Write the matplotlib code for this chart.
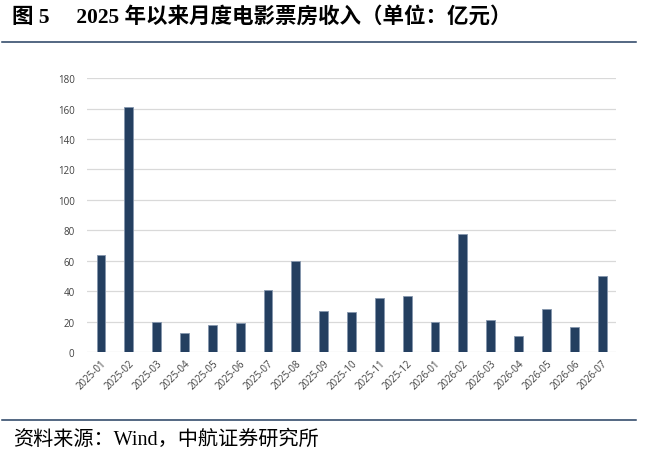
import matplotlib
matplotlib.use("Agg")
import matplotlib.pyplot as plt
from matplotlib.lines import Line2D

# monthly box office, 100m yuan
months = ["2025-01", "2025-02", "2025-03", "2025-04", "2025-05", "2025-06",
          "2025-07", "2025-08", "2025-09", "2025-10", "2025-11", "2025-12",
          "2026-01", "2026-02", "2026-03", "2026-04", "2026-05", "2026-06",
          "2026-07"]
box_office = [63.5, 161.0, 19.5, 12.2, 17.7, 19.3, 40.9, 60.0, 26.7, 26.0,
              35.5, 37.0, 19.7, 77.7, 21.2, 10.5, 28.2, 16.4, 50.1]
yticks = [0, 20, 40, 60, 80, 100, 120, 140, 160, 180]

title = "图 5　 2025 年以来月度电影票房收入（单位：亿元）"
source = "资料来源：Wind，中航证券研究所"

navy = "#243f60"
fam = ["Liberation Serif", "Noto Sans CJK SC", "DejaVu Sans"]

fig = plt.figure(figsize=(6.45, 4.6), dpi=100)
ax = fig.add_axes([0.135, 0.2326, 0.82, 0.5954])

x = list(range(len(months)))
ax.bar(x, box_office, width=0.32, color=navy, edgecolor="#8596ad",
       linewidth=0.6, zorder=3)

ax.set_xlim(-0.5, len(months) - 0.5)
ax.set_ylim(0, 180)
ax.set_yticks(yticks)
ax.set_xticks(x)
ax.set_xticklabels(months, rotation=45, ha="right", rotation_mode="anchor")
ax.grid(axis="y", color="#d9d9d9", linewidth=0.9, zorder=0)
for s in ax.spines.values():
    s.set_visible(False)
ax.tick_params(axis="both", length=0, labelsize=7, labelcolor="#404040",
               pad=4)
ax.tick_params(axis="y", pad=9)
for lab in ax.get_xticklabels() + ax.get_yticklabels():
    lab.set_family("Open Sans")

fig.text(0.019, 1 - 17 / 460, title, fontsize=15.5, fontweight="bold",
         family=fam, va="center", ha="left")
fig.add_artist(Line2D([0.003, 0.986], [1 - 43 / 460, 1 - 43 / 460],
                      color=navy, linewidth=1.1))
fig.add_artist(Line2D([0.003, 0.986], [1 - 421 / 460, 1 - 421 / 460],
                      color=navy, linewidth=1.1))
fig.text(0.021, 1 - 440 / 460, source, fontsize=14.5,
         family=fam, va="center", ha="left")

fig.savefig("out.png", dpi=100)
